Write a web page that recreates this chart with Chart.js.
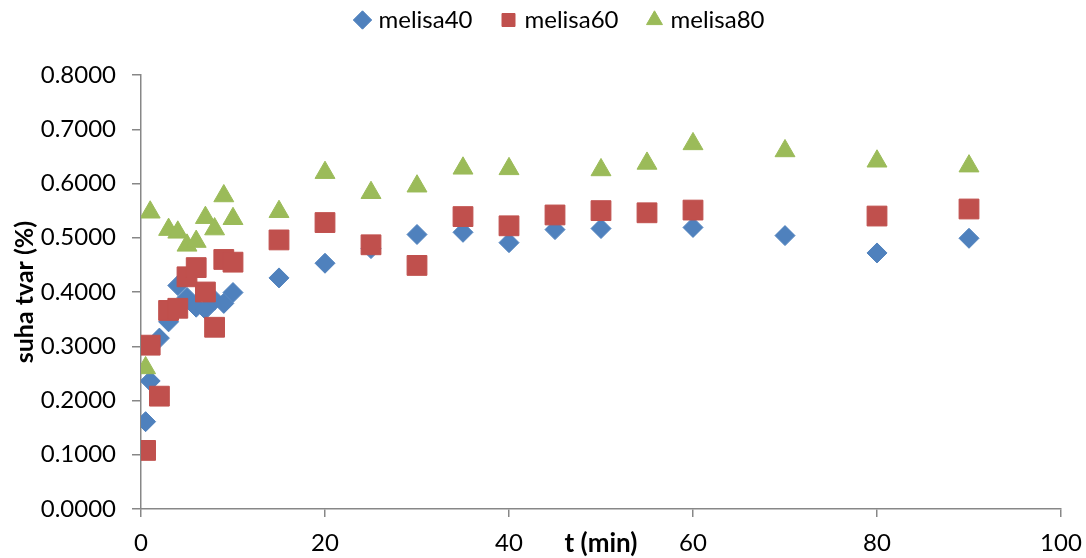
<!DOCTYPE html>
<html>
<head>
<meta charset="utf-8">
<script src="https://cdn.jsdelivr.net/npm/chart.js@4.4.0/dist/chart.umd.min.js"></script>
<style>
  html, body { margin: 0; padding: 0; background: #fff; }
  #wrap { width: 1086px; height: 558px; }
</style>
</head>
<body>
<div id="wrap"><canvas id="grafico"></canvas></div>
<script>
// vrijeme (min) i suha tvar za svaki uzorak
var t40 = [0.5, 1, 2, 3, 4, 5, 6, 7, 8, 9, 10, 15, 20, 25, 30, 35, 40, 45, 50, 60, 70, 80, 90];
var melisa40 = [0.161, 0.236, 0.315, 0.345, 0.412, 0.390, 0.372, 0.368, 0.385, 0.379, 0.399, 0.426, 0.453, 0.480, 0.506, 0.510, 0.491, 0.515, 0.517, 0.519, 0.504, 0.472, 0.499];

var t60 = [0.5, 1, 2, 3, 4, 5, 6, 7, 8, 9, 10, 15, 20, 25, 30, 35, 40, 45, 50, 55, 60, 80, 90];
var melisa60 = [0.108, 0.302, 0.208, 0.366, 0.370, 0.428, 0.445, 0.400, 0.335, 0.460, 0.455, 0.496, 0.528, 0.487, 0.449, 0.539, 0.522, 0.542, 0.550, 0.546, 0.551, 0.540, 0.553];

var t80 = [0.5, 1, 3, 4, 5, 6, 7, 8, 9, 10, 15, 20, 25, 30, 35, 40, 50, 55, 60, 70, 80, 90];
var melisa80 = [0.260, 0.547, 0.515, 0.510, 0.486, 0.493, 0.537, 0.516, 0.577, 0.535, 0.548, 0.620, 0.583, 0.595, 0.628, 0.627, 0.625, 0.637, 0.673, 0.660, 0.641, 0.632];

var xTicks = [0, 20, 40, 60, 80, 100];
var yTicks = [0, 0.1, 0.2, 0.3, 0.4, 0.5, 0.6, 0.7, 0.8];

function tocke(xs, ys) {
    var lista = [];
    for (var i = 0; i < xs.length; i++) {
        lista.push({ x: xs[i], y: ys[i] });
    }
    return lista;
}

Chart.defaults.font.family = "Lato";
Chart.defaults.font.size = 24;
Chart.defaults.color = "#000";

// naslov x osi stoji u istom redu kao oznake
var naslovX = {
    id: "naslovX",
    afterDraw: function (chart) {
        var ctx = chart.ctx;
        var a = chart.chartArea;
        ctx.save();
        ctx.font = "bold 26px Lato";
        ctx.fillStyle = "#000";
        ctx.textAlign = "center";
        ctx.textBaseline = "middle";
        ctx.fillText("t (min)", (a.left + a.right) / 2, 544);
        ctx.restore();
    }
};

// legenda: fiksna visina, malo pomaknuta udesno i gore
var legendaVisina = {
    id: "legendaVisina",
    beforeInit: function (chart) {
        var fit = chart.legend.fit;
        chart.legend.fit = function () {
            fit.bind(chart.legend)();
            this.height = 75;
        };
    },
    afterLayout: function (chart) {
        var l = chart.legend;
        l.left += 31;
        l.right += 31;
        l.top -= 24;
        l.bottom -= 24;
    }
};

var siva = "#878787";

new Chart(document.getElementById("grafico"), {
    type: "scatter",
    data: {
        datasets: [{
            label: "melisa40",
            data: tocke(t40, melisa40),
            pointStyle: "rectRot",
            pointRadius: 10,
            pointHoverRadius: 10,
            backgroundColor: "#4F81BD",
            borderColor: "#4F81BD",
            borderWidth: 1,
            order: 3
        }, {
            label: "melisa60",
            data: tocke(t60, melisa60),
            pointStyle: "rect",
            pointRadius: 14,
            pointHoverRadius: 14,
            backgroundColor: "#C0504D",
            borderColor: "#C0504D",
            borderWidth: 1,
            order: 2
        }, {
            label: "melisa80",
            data: tocke(t80, melisa80),
            pointStyle: "triangle",
            pointRadius: 11.5,
            pointHoverRadius: 11.5,
            backgroundColor: "#9BBB59",
            borderColor: "#9BBB59",
            borderWidth: 1,
            order: 1
        }]
    },
    options: {
        responsive: true,
        maintainAspectRatio: false,
        animation: false,
        events: [],
        layout: { padding: { left: 0, right: 25, top: 0, bottom: 0 } },
        plugins: {
            tooltip: { enabled: false },
            legend: {
                position: "top",
                labels: {
                    usePointStyle: true,
                    boxWidth: 8,
                    boxHeight: 13,
                    padding: 32,
                    font: { size: 24 },
                    sort: function (a, b) { return a.datasetIndex - b.datasetIndex; }
                }
            }
        },
        scales: {
            x: {
                type: "linear",
                min: 0,
                max: 100,
                afterFit: function (scale) {
                    scale.height = 49;
                    scale.paddingLeft = 0;
                    scale.paddingRight = 0;
                },
                afterBuildTicks: function (scale) {
                    scale.ticks = xTicks.map(function (v) { return { value: v }; });
                },
                ticks: { padding: 12, font: { size: 24 } },
                grid: { drawOnChartArea: false, drawTicks: true, tickLength: 8, color: siva, lineWidth: 1.5 },
                border: { display: true, color: siva, width: 1.5 }
            },
            y: {
                min: 0,
                max: 0.8,
                afterFit: function (scale) { scale.width = 141; },
                afterBuildTicks: function (scale) {
                    scale.ticks = yTicks.map(function (v) { return { value: v }; });
                },
                ticks: {
                    padding: 16,
                    font: { size: 24 },
                    callback: function (v) { return Number(v).toFixed(4); }
                },
                title: {
                    display: true,
                    text: "suha tvar (%)",
                    font: { size: 25, weight: "bold" },
                    padding: { top: 10, bottom: 0 }
                },
                grid: { drawOnChartArea: false, drawTicks: true, tickLength: 9, color: siva, lineWidth: 1.5 },
                border: { display: true, color: siva, width: 1.5 }
            }
        }
    },
    plugins: [naslovX, legendaVisina]
});
</script>
</body>
</html>
